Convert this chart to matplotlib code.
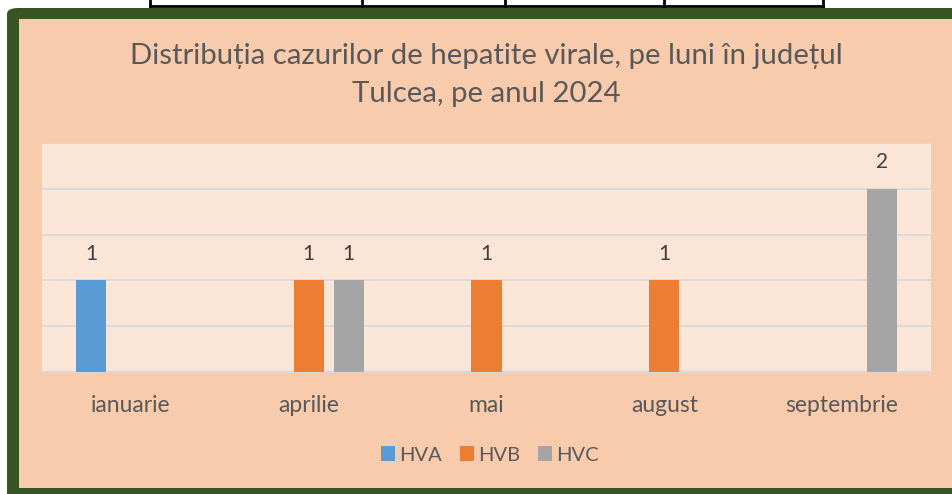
import matplotlib
matplotlib.use("Agg")
import matplotlib.pyplot as plt
from matplotlib.patches import FancyBboxPatch, Rectangle
import numpy as np

luni = ["ianuarie", "aprilie", "mai", "august", "septembrie"]
serii = ["HVA", "HVB", "HVC"]
hva = [1, 0, 0, 0, 0]
hvb = [0, 1, 1, 1, 0]
hvc = [0, 1, 0, 0, 2]
culori = ["#5B9BD5", "#ED7D31", "#A5A5A5"]
titlu = "Distribuția cazurilor de hepatite virale, pe luni în județul\nTulcea, pe anul 2024"

W, H = 953, 494
plt.rcParams["font.family"] = ["Lato", "DejaVu Sans"]

fig = plt.figure(figsize=(W / 100, H / 100), dpi=100)
fig.patch.set_facecolor("white")


def fx(px):
    return px / W


def fy(py):
    return 1 - py / H


# table fragment above the chart
for x in [150, 362, 505, 664, 823]:
    fig.add_artist(plt.Line2D([fx(x), fx(x)], [fy(0), fy(7)], color="black", lw=2, zorder=-2))
fig.add_artist(plt.Line2D([fx(150), fx(823)], [fy(6), fy(6)], color="black", lw=2, zorder=-2))

# green frame and peach chart area
fig.add_artist(FancyBboxPatch((fx(7), fy(500)), fx(960), 492 / H,
                              boxstyle="round,pad=0,rounding_size=0.012",
                              transform=fig.transFigure, facecolor="#375623",
                              edgecolor="none", zorder=-2))
fig.add_artist(Rectangle((fx(19), fy(488)), fx(940), 469 / H,
                         transform=fig.transFigure, facecolor="#F8CBAD",
                         edgecolor="none", zorder=-1))

ax = fig.add_axes([fx(42), fy(372), fx(889), 229 / H])
ax.set_zorder(2)
ax.set_facecolor("#FBE5D6")

x = np.arange(len(luni))
bw = 0.169
step = 0.225
for i, (vals, col, nume) in enumerate(zip([hva, hvb, hvc], culori, serii)):
    pos = x + (i - 1) * step
    vals = np.array(vals, dtype=float)
    ax.bar(pos, np.where(vals > 0, vals, np.nan), width=bw, color=col, label=nume, zorder=3)
    for p, v in zip(pos, vals):
        if v > 0:
            ax.text(p, v + 0.18, f"{int(v)}", ha="center", va="bottom",
                    fontsize=15, color="#404040")

ax.set_xlim(-0.5, len(luni) - 0.5)
ax.set_ylim(0, 2.5)
ax.set_yticks(np.arange(0, 2.51, 0.5))
ax.yaxis.grid(True, color="#D9D9D9", lw=1.3, zorder=0)
ax.set_axisbelow(True)
ax.tick_params(axis="y", left=False, labelleft=False)
ax.tick_params(axis="x", bottom=False, labelsize=16.5, labelcolor="#595959", pad=13)
ax.set_xticks(x)
ax.set_xticklabels(luni)
for s in ["top", "right", "left"]:
    ax.spines[s].set_visible(False)
ax.spines["bottom"].set_color("#D9D9D9")
ax.spines["bottom"].set_linewidth(1.3)

fig.text(fx(486), fy(75), titlu, ha="center", va="center", fontsize=21.2,
         color="#595959", linespacing=1.55)

fig.legend(loc="center", bbox_to_anchor=(fx(490), fy(455)), ncol=3, frameon=False,
           fontsize=14.5, labelcolor="#595959", handlelength=0.7, handleheight=0.7,
           handletextpad=0.2, columnspacing=0.9)

fig.savefig("out.png", dpi=100, facecolor=fig.get_facecolor())
